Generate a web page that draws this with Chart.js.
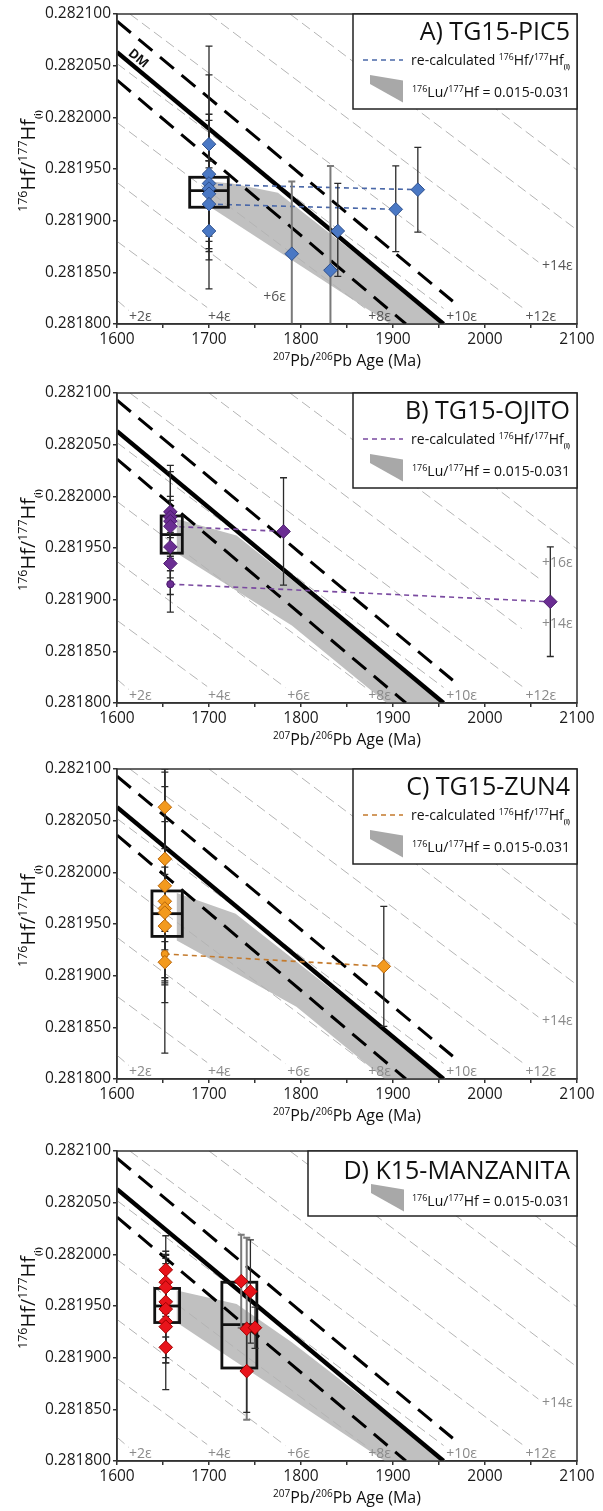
<!DOCTYPE html>
<html>
<head>
<meta charset="utf-8">
<script src="https://cdn.jsdelivr.net/npm/chart.js@4.4.0/dist/chart.umd.min.js"></script>
<style>
  html, body { margin: 0; padding: 0; background: #fff; overflow: hidden; }
  .panel { position: absolute; left: 0; width: 603px; height: 378px; }
</style>
</head>
<body>
<div class="panel" style="top:0px"><canvas id="cA"></canvas></div>
<div class="panel" style="top:379px"><canvas id="cB"></canvas></div>
<div class="panel" style="top:755px"><canvas id="cC"></canvas></div>
<div class="panel" style="top:1137px"><canvas id="cD"></canvas></div>
<script>
// axes: 207Pb/206Pb age (Ma) vs 176Hf/177Hf(i)
const xLabels = [1600, 1700, 1800, 1900, 2000, 2100];
const yTicks = [0.28180, 0.28185, 0.28190, 0.28195, 0.28200, 0.28205, 0.28210];

// depleted mantle + the two dashed envelopes
const dmAge = [1600, 1955];
const dmHf = [0.282063, 0.281800];
const dmUpAge = [1600, 1965];
const dmUpHf = [0.282093, 0.281822];
const dmLowAge = [1600, 1914];
const dmLowHf = [0.282036, 0.281800];

// epsilon Hf contours (+2 ... +22)
const epsStartAge = [1600, 1600, 1600, 1600, 1600, 1614, 1700, 1788, 1875, 1961, 2048];
const epsStartHf = [0.281823, 0.281880, 0.281937, 0.281995, 0.282052, 0.282100, 0.282100, 0.282100, 0.282100, 0.282100, 0.282100];
const epsEndAge = [1613, 1698, 1783, 1870, 1955, 2042, 2058, 2100, 2100, 2100, 2100];
const epsEndHf = [0.281813, 0.281816, 0.281815, 0.281815, 0.281815, 0.281815, 0.281860, 0.281891, 0.281949, 0.282007, 0.282065];
const epsEndAgeA = [1613, 1698, 1752, 1870, 1955, 2042, 2058, 2100, 2100, 2100, 2100];
const epsEndHfA = [0.281813, 0.281816, 0.281835, 0.281815, 0.281815, 0.281815, 0.281860, 0.281891, 0.281949, 0.282007, 0.282065];
const epsEndAgeB = [1613, 1698, 1783, 1870, 1955, 2042, 2040, 2058, 2100, 2100, 2100];
const epsEndHfB = [0.281813, 0.281816, 0.281815, 0.281815, 0.281815, 0.281815, 0.281872, 0.281921, 0.281949, 0.282007, 0.282065];

// ---- A) TG15-PIC5 ----
const ageA = [1700, 1700, 1700, 1700, 1700, 1700, 1700, 1790, 1832, 1840, 1903, 1927];
const hfA = [0.281974, 0.281945, 0.281936, 0.281931, 0.281926, 0.281916, 0.281890, 0.281868, 0.281852, 0.281890, 0.281911, 0.281930];
const errUpA = [0.000023, 0.000124, 0.000105, 0.000072, 0.000032, 0.000042, 0.000028, 0.000070, 0.000101, 0.000046, 0.000042, 0.000041];
const errDnA = [0.000023, 0.000111, 0.000074, 0.000058, 0.000046, 0.000031, 0.000020, 0.000070, 0.000101, 0.000044, 0.000041, 0.000041];
const smallAgeA = [];
const smallHfA = [];
const smallErrA = [];
const recalcAgeA = [[1700, 1927], [1700, 1903]];
const recalcHfA = [[0.281935, 0.281930], [0.281916, 0.281911]];
const boxA = [[1679, 1721, 0.281913, 0.281929, 0.281942]];
const fieldAgeA = [1700, 1725, 1775, 1957, 1897, 1700];
const fieldHfA = [0.281938, 0.281936, 0.281927, 0.281800, 0.281800, 0.281914];
const epsTextA = ['+2ε', '+4ε', '+6ε', '+8ε', '+10ε', '+12ε', '+14ε'];
const epsTextAgeA = [1613, 1699, 1759, 1873, 1958, 2044, 2062];
const epsTextHfA = [0.281807, 0.281807, 0.281826, 0.281807, 0.281807, 0.281807, 0.281856];

// ---- B) TG15-OJITO ----
const ageB = [1658, 1658, 1658, 1658, 1658, 1658, 1781, 2071];
const hfB = [0.281985, 0.281980, 0.281976, 0.281971, 0.281951, 0.281935, 0.281966, 0.281898];
const errUpB = [0.000045, 0.000020, 0.000048, 0.000025, 0.000030, 0.000030, 0.000052, 0.000053];
const errDnB = [0.000045, 0.000020, 0.000048, 0.000025, 0.000030, 0.000030, 0.000052, 0.000053];
const smallAgeB = [1658];
const smallHfB = [0.281915];
const smallErrB = [0.000027];
const recalcAgeB = [[1658, 1781], [1658, 2071]];
const recalcHfB = [[0.281971, 0.281966], [0.281915, 0.281898]];
const boxB = [[1648, 1671, 0.281945, 0.281963, 0.281981]];
const fieldAgeB = [1665, 1730, 1957, 1893, 1790, 1665];
const fieldHfB = [0.281978, 0.281962, 0.281800, 0.281800, 0.281875, 0.281945];
const epsTextB = ['+2ε', '+4ε', '+6ε', '+8ε', '+10ε', '+12ε', '+14ε', '+16ε'];
const epsTextAgeB = [1613, 1699, 1785, 1873, 1958, 2044, 2062, 2062];
const epsTextHfB = [0.281807, 0.281807, 0.281807, 0.281807, 0.281807, 0.281807, 0.281876, 0.281935];

// ---- C) TG15-ZUN4 ----
const ageC = [1652, 1652, 1652, 1652, 1652, 1652, 1652, 1652, 1890];
const hfC = [0.282063, 0.282013, 0.281987, 0.281972, 0.281965, 0.281961, 0.281948, 0.281913, 0.281909];
const errUpC = [0.000040, 0.000070, 0.000113, 0.000077, 0.000040, 0.000136, 0.000050, 0.000020, 0.000058];
const errDnC = [0.000040, 0.000070, 0.000113, 0.000077, 0.000040, 0.000136, 0.000050, 0.000020, 0.000058];
const smallAgeC = [1652];
const smallHfC = [0.281921];
const smallErrC = [0.000030];
const recalcAgeC = [[1652, 1890]];
const recalcHfC = [[0.281921, 0.281909]];
const boxC = [[1638, 1671, 0.281938, 0.281960, 0.281982]];
const fieldAgeC = [1665, 1729, 1957, 1891, 1795, 1665];
const fieldHfC = [0.281980, 0.281960, 0.281800, 0.281800, 0.281870, 0.281934];
const epsTextC = ['+2ε', '+4ε', '+6ε', '+8ε', '+10ε', '+12ε', '+14ε'];
const epsTextAgeC = [1613, 1699, 1785, 1873, 1958, 2044, 2062];
const epsTextHfC = [0.281807, 0.281807, 0.281807, 0.281807, 0.281807, 0.281807, 0.281856];

// ---- D) K15-MANZANITA ----
const ageD = [1653, 1653, 1653, 1653, 1653, 1653, 1653, 1653, 1735, 1745, 1741, 1750, 1741];
const hfD = [0.281985, 0.281973, 0.281968, 0.281954, 0.281947, 0.281935, 0.281930, 0.281910, 0.281974, 0.281964, 0.281928, 0.281929, 0.281887];
const errUpD = [0.000033, 0.000030, 0.000028, 0.000046, 0.000052, 0.000040, 0.000061, 0.000010, 0.000045, 0.000050, 0.000088, 0.000020, 0.000040];
const errDnD = [0.000033, 0.000030, 0.000028, 0.000046, 0.000052, 0.000040, 0.000061, 0.000010, 0.000045, 0.000050, 0.000088, 0.000020, 0.000040];
const smallAgeD = [];
const smallHfD = [];
const smallErrD = [];
const boxD = [[1641, 1668, 0.281934, 0.281950, 0.281967], [1714, 1752, 0.281890, 0.281932, 0.281973]];
const fieldAgeD = [1665, 1730, 1790, 1957, 1891, 1665];
const fieldHfD = [0.281965, 0.281952, 0.281915, 0.281800, 0.281800, 0.281934];
const epsTextD = ['+2ε', '+4ε', '+6ε', '+8ε', '+10ε', '+12ε', '+14ε'];
const epsTextAgeD = [1613, 1699, 1785, 1873, 1958, 2044, 2062];
const epsTextHfD = [0.281807, 0.281807, 0.281807, 0.281807, 0.281807, 0.281807, 0.281856];

const FONT = '"Open Sans", "DejaVu Sans", sans-serif';

function pts(ages, hfs) {
  return ages.map((a, i) => ({ x: a, y: hfs[i] }));
}

function lineSet(ages, hfs, color, width, dash) {
  return {
    data: pts(ages, hfs), showLine: true, borderColor: color, borderWidth: width,
    borderDash: dash || [], pointRadius: 0, fill: false, tension: 0, borderCapStyle: 'butt'
  };
}

function drawRich(ctx, parts, x, y, align) {
  let w = 0;
  parts.forEach(p => {
    ctx.font = (p.b ? 'bold ' : '') + p.s + 'px ' + FONT;
    p.w = ctx.measureText(p.t).width;
    w += p.w;
  });
  let cx = align === 'right' ? x - w : align === 'center' ? x - w / 2 : x;
  ctx.textAlign = 'left';
  ctx.textBaseline = 'alphabetic';
  parts.forEach(p => {
    ctx.font = (p.b ? 'bold ' : '') + p.s + 'px ' + FONT;
    ctx.fillText(p.t, cx, y + (p.dy || 0));
    cx += p.w;
  });
}

function hfParts(s) {
  return [
    { t: '176', s: s * 0.62, dy: -s * 0.38 }, { t: 'Hf/', s: s },
    { t: '177', s: s * 0.62, dy: -s * 0.38 }, { t: 'Hf', s: s },
    { t: '(i)', s: s * 0.45, dy: s * 0.28, b: true }
  ];
}

function makePanel(id, p) {
  const datasets = [];
  datasets.push({
    data: pts(p.ages, p.hf), showLine: false, pointStyle: 'rectRot', pointRadius: 6.8,
    pointBackgroundColor: p.fill, pointBorderColor: p.edge, pointBorderWidth: 1
  });
  datasets.push({
    data: pts(p.smallAges, p.smallHf), showLine: false, pointStyle: 'circle', pointRadius: 3.6,
    pointBackgroundColor: p.fill, pointBorderColor: p.edge, pointBorderWidth: 1
  });
  (p.recalcAge || []).forEach((a, i) => datasets.push(lineSet(a, p.recalcHf[i], p.dash, 1.6, [5, 4])));
  datasets.push(lineSet(dmAge, dmHf, '#000', 4.4));
  datasets.push(lineSet(dmUpAge, dmUpHf, '#000', 3, [18, 10]));
  datasets.push(lineSet(dmLowAge, dmLowHf, '#000', 3, [18, 10]));
  epsStartAge.forEach((a, i) => {
    datasets.push(lineSet([a, p.epsEndAge[i]], [epsStartHf[i], p.epsEndHf[i]], '#b4b4b4', 1, [10, 5]));
  });

  const plugin = {
    id: 'panel' + id,
    beforeDatasetsDraw(chart) {
      const ctx = chart.ctx, ar = chart.chartArea, x = chart.scales.x, y = chart.scales.y;
      ctx.save();
      ctx.beginPath();
      ctx.rect(ar.left, ar.top, ar.right - ar.left, ar.bottom - ar.top);
      ctx.clip();
      ctx.fillStyle = '#c0c0c0';
      ctx.beginPath();
      p.fieldAge.forEach((a, i) => {
        const X = x.getPixelForValue(a), Y = y.getPixelForValue(p.fieldHf[i]);
        if (i) ctx.lineTo(X, Y); else ctx.moveTo(X, Y);
      });
      ctx.closePath();
      ctx.fill();
      ctx.restore();
    },
    beforeDatasetDraw(chart, args) {
      if (args.index !== 1) return;
      const ctx = chart.ctx, ar = chart.chartArea, x = chart.scales.x, y = chart.scales.y;
      ctx.save();
      ctx.beginPath();
      ctx.rect(ar.left, ar.top, ar.right - ar.left, ar.bottom - ar.top);
      ctx.clip();
      // boxes
      ctx.strokeStyle = '#111';
      ctx.lineWidth = 2.8;
      p.boxes.forEach(b => {
        const x0 = x.getPixelForValue(b[0]), x1 = x.getPixelForValue(b[1]);
        const q1 = y.getPixelForValue(b[2]), md = y.getPixelForValue(b[3]), q3 = y.getPixelForValue(b[4]);
        ctx.strokeRect(x0, q3, x1 - x0, q1 - q3);
        ctx.beginPath();
        ctx.moveTo(x0, md);
        ctx.lineTo(x1, md);
        ctx.stroke();
      });
      // error bars
      const bar = (a, h, up, dn, grey) => {
        ctx.strokeStyle = grey ? '#7a7a7a' : '#2a2a2a';
        ctx.lineWidth = grey ? 2 : 1.3;
        const X = x.getPixelForValue(a);
        const T = y.getPixelForValue(h + up), B = y.getPixelForValue(h - dn);
        ctx.beginPath();
        ctx.moveTo(X, T); ctx.lineTo(X, B);
        ctx.moveTo(X - 3.5, T); ctx.lineTo(X + 3.5, T);
        ctx.moveTo(X - 3.5, B); ctx.lineTo(X + 3.5, B);
        ctx.stroke();
      };
      p.ages.forEach((a, i) => bar(a, p.hf[i], p.errUp[i], p.errDn[i], p.greyBars.includes(i)));
      p.smallAges.forEach((a, i) => bar(a, p.smallHf[i], p.smallErr[i], p.smallErr[i], false));
      ctx.restore();
    },
    afterDraw(chart) {
      const ctx = chart.ctx, ar = chart.chartArea, x = chart.scales.x, y = chart.scales.y;
      ctx.save();
      // epsilon labels
      ctx.fillStyle = p.epsColor;
      ctx.font = '14px ' + FONT;
      ctx.textAlign = 'left';
      ctx.textBaseline = 'middle';
      p.epsText.forEach((t, i) => {
        ctx.fillText(t, x.getPixelForValue(p.epsTextAge[i]), y.getPixelForValue(p.epsTextHf[i]));
      });
      // DM label
      if (p.dmLabel) {
        const x0 = x.getPixelForValue(dmAge[0]), y0 = y.getPixelForValue(dmHf[0]);
        const x1 = x.getPixelForValue(dmAge[1]), y1 = y.getPixelForValue(dmHf[1]);
        const ang = Math.atan2(y1 - y0, x1 - x0);
        const t = (x.getPixelForValue(1617) - x0) / (x1 - x0);
        ctx.translate(x0 + t * (x1 - x0), y0 + t * (y1 - y0));
        ctx.rotate(ang);
        ctx.fillStyle = '#111';
        ctx.font = 'bold 13px ' + FONT;
        ctx.textAlign = 'center';
        ctx.textBaseline = 'alphabetic';
        ctx.fillText('DM', 0, -5);
        ctx.setTransform(1, 0, 0, 1, 0, 0);
      }
      // frame
      ctx.strokeStyle = '#333';
      ctx.lineWidth = 1.5;
      ctx.strokeRect(ar.left, ar.top, ar.right - ar.left, ar.bottom - ar.top);
      // legend
      const L = ar.right - p.legW, T = ar.top, H = p.legH;
      ctx.fillStyle = '#fff';
      ctx.fillRect(L, T, ar.right - L, H);
      ctx.strokeStyle = '#222';
      ctx.strokeRect(L, T, ar.right - L, H);
      ctx.fillStyle = '#111';
      drawRich(ctx, [{ t: p.title, s: 25 }], ar.right - 7, T + p.titleY, 'right');
      if (p.recalcAge) {
        ctx.strokeStyle = p.dash;
        ctx.lineWidth = 1.6;
        ctx.setLineDash([5, 4]);
        ctx.beginPath();
        ctx.moveTo(L + 10, T + 46);
        ctx.lineTo(L + 50, T + 46);
        ctx.stroke();
        ctx.setLineDash([]);
        ctx.fillStyle = '#111';
        drawRich(ctx, [{ t: 're-calculated ', s: 14 }].concat(hfParts(14)), ar.right - 7, T + 51, 'right');
      }
      const sy = p.recalcAge ? 61 : 33;
      ctx.fillStyle = '#a8a8a8';
      ctx.beginPath();
      ctx.moveTo(L + p.swX, T + sy);
      ctx.lineTo(L + p.swX + 33, T + sy + 5.5);
      ctx.lineTo(L + p.swX + 33, T + sy + 27.5);
      ctx.lineTo(L + p.swX, T + sy + 9);
      ctx.closePath();
      ctx.fill();
      ctx.fillStyle = '#111';
      drawRich(ctx, [
        { t: '176', s: 9, dy: -5.5 }, { t: 'Lu/', s: 14 }, { t: '177', s: 9, dy: -5.5 },
        { t: 'Hf = 0.015-0.031', s: 14 }
      ], ar.right - 7, T + sy + 22, 'right');
      // axis titles
      ctx.fillStyle = '#111';
      drawRich(ctx, [
        { t: '207', s: 10, dy: -6 }, { t: 'Pb/', s: 16 }, { t: '206', s: 10, dy: -6 }, { t: 'Pb Age (Ma)', s: 16 }
      ], (ar.left + ar.right) / 2, ar.bottom + 42, 'center');
      ctx.translate(28, (ar.top + ar.bottom) / 2 - 8);
      ctx.rotate(-Math.PI / 2);
      drawRich(ctx, hfParts(20), 0, 7, 'center');
      ctx.restore();
    }
  };

  new Chart(document.getElementById(id), {
    type: 'scatter',
    data: { datasets },
    options: {
      responsive: true,
      maintainAspectRatio: false,
      animation: false,
      events: [],
      layout: { padding: { top: 14, right: 26, left: 0, bottom: 0 } },
      plugins: { legend: { display: false }, tooltip: { enabled: false } },
      scales: {
        x: {
          type: 'linear', min: 1600, max: 2100,
          afterFit: s => { s.height = 54; },
          ticks: {
            stepSize: 50, autoSkip: false, maxRotation: 0, padding: 2, color: '#1a1a1a',
            font: { family: FONT, size: 15.5 },
            callback: v => xLabels.includes(v) ? String(v) : ''
          },
          grid: { drawOnChartArea: false, drawTicks: true, tickLength: 4, color: '#333', lineWidth: 1.5 },
          border: { display: true, color: '#333', width: 1.5 }
        },
        y: {
          type: 'linear', min: 0.2818, max: 0.2821,
          afterFit: s => { s.width = 117; },
          afterBuildTicks: s => { s.ticks = yTicks.map(v => ({ value: v })); },
          ticks: {
            padding: 2, color: '#1a1a1a', font: { family: FONT, size: 15.5 },
            callback: v => v.toFixed(6)
          },
          grid: { drawOnChartArea: false, drawTicks: true, tickLength: 4, color: '#333', lineWidth: 1.5 },
          border: { display: true, color: '#333', width: 1.5 }
        }
      }
    },
    plugins: [plugin]
  });
}

makePanel('cA', {
  title: 'A) TG15-PIC5', ages: ageA, hf: hfA, errUp: errUpA, errDn: errDnA, greyBars: [7, 8],
  smallAges: smallAgeA, smallHf: smallHfA, smallErr: smallErrA,
  recalcAge: recalcAgeA, recalcHf: recalcHfA, boxes: boxA, fieldAge: fieldAgeA, fieldHf: fieldHfA,
  epsEndAge: epsEndAgeA, epsEndHf: epsEndHfA, epsText: epsTextA, epsTextAge: epsTextAgeA, epsTextHf: epsTextHfA,
  fill: '#4a78c4', edge: '#2d4f8c', dash: '#4a68a8', epsColor: '#555', dmLabel: true,
  legW: 224, legH: 95, titleY: 26, swX: 17
});
makePanel('cB', {
  title: 'B) TG15-OJITO', ages: ageB, hf: hfB, errUp: errUpB, errDn: errDnB, greyBars: [],
  smallAges: smallAgeB, smallHf: smallHfB, smallErr: smallErrB,
  recalcAge: recalcAgeB, recalcHf: recalcHfB, boxes: boxB, fieldAge: fieldAgeB, fieldHf: fieldHfB,
  epsEndAge: epsEndAgeB, epsEndHf: epsEndHfB, epsText: epsTextB, epsTextAge: epsTextAgeB, epsTextHf: epsTextHfB,
  fill: '#6b2d93', edge: '#4a1a6c', dash: '#7a4aa0', epsColor: '#8a8a8a', dmLabel: false,
  legW: 224, legH: 95, titleY: 26, swX: 17
});
makePanel('cC', {
  title: 'C) TG15-ZUN4', ages: ageC, hf: hfC, errUp: errUpC, errDn: errDnC, greyBars: [],
  smallAges: smallAgeC, smallHf: smallHfC, smallErr: smallErrC,
  recalcAge: recalcAgeC, recalcHf: recalcHfC, boxes: boxC, fieldAge: fieldAgeC, fieldHf: fieldHfC,
  epsEndAge: epsEndAge, epsEndHf: epsEndHf, epsText: epsTextC, epsTextAge: epsTextAgeC, epsTextHf: epsTextHfC,
  fill: '#f39a1e', edge: '#b8660b', dash: '#c47a2c', epsColor: '#8a8a8a', dmLabel: false,
  legW: 224, legH: 95, titleY: 26, swX: 17
});
makePanel('cD', {
  title: 'D) K15-MANZANITA', ages: ageD, hf: hfD, errUp: errUpD, errDn: errDnD, greyBars: [8, 10],
  smallAges: smallAgeD, smallHf: smallHfD, smallErr: smallErrD,
  recalcAge: null, recalcHf: null, boxes: boxD, fieldAge: fieldAgeD, fieldHf: fieldHfD,
  epsEndAge: epsEndAge, epsEndHf: epsEndHf, epsText: epsTextD, epsTextAge: epsTextAgeD, epsTextHf: epsTextHfD,
  fill: '#e8141b', edge: '#a00000', dash: '#a00000', epsColor: '#8a8a8a', dmLabel: false,
  legW: 269, legH: 65, titleY: 28, swX: 63
});
</script>
</body>
</html>
